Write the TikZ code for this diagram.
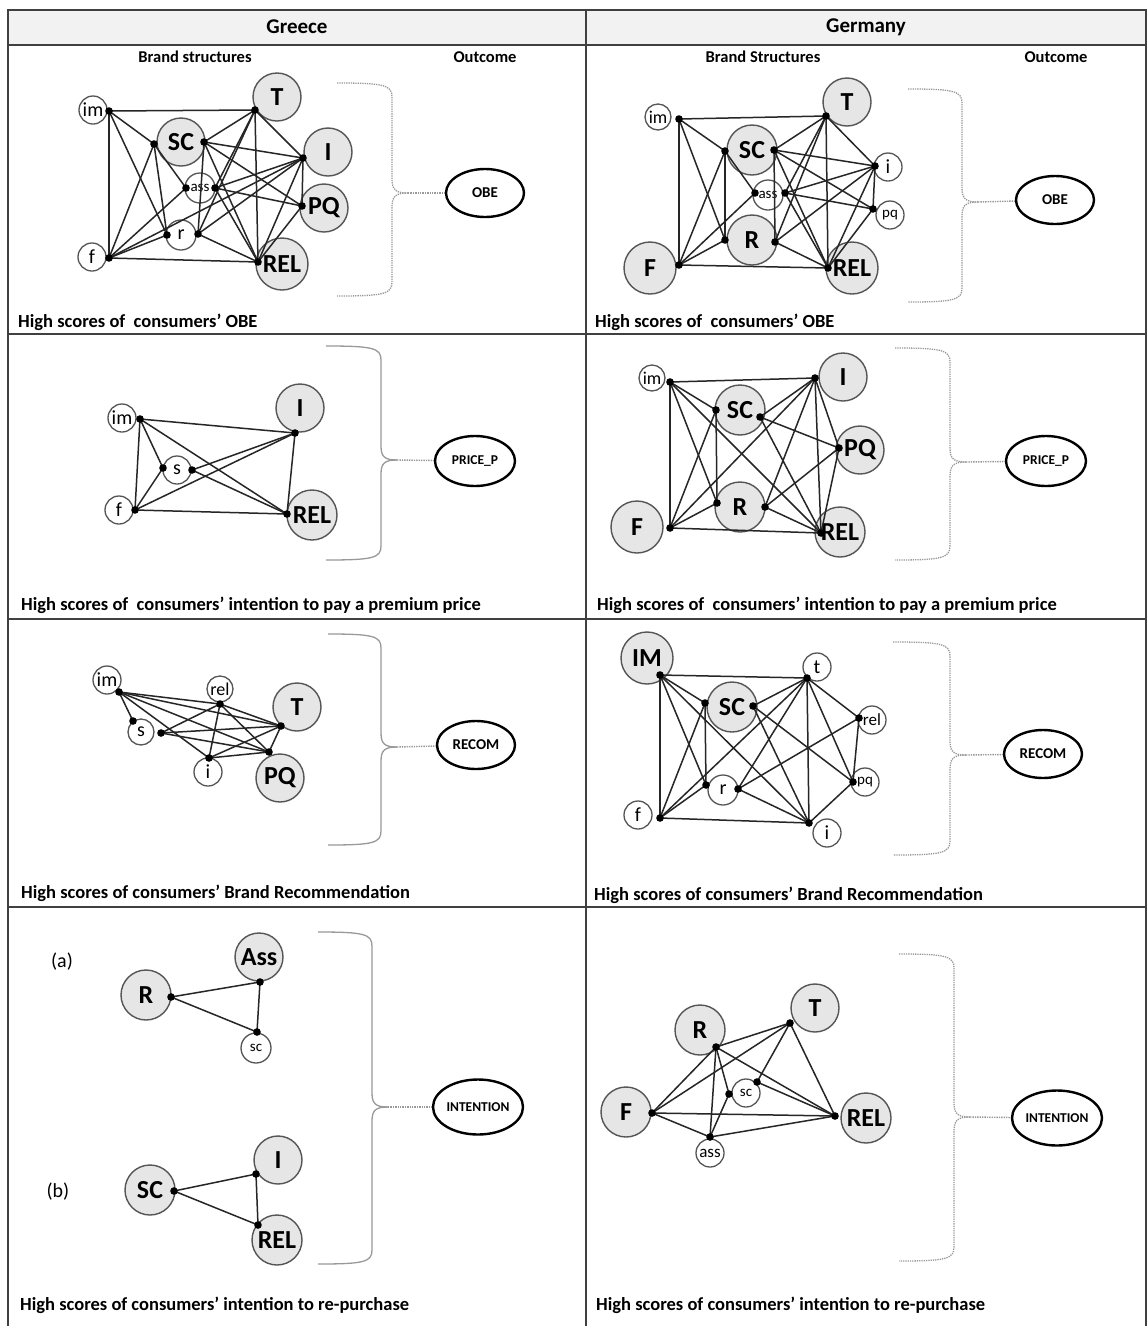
\documentclass[tikz,border=0pt]{standalone}
\usepackage{fontspec}
\setmainfont{Carlito}
\usetikzlibrary{shapes.geometric}
\definecolor{nodegrey}{HTML}{E6E6E6}
\definecolor{rim}{HTML}{555555}
\definecolor{rule}{HTML}{404040}
\definecolor{headfill}{HTML}{F2F2F2}
\definecolor{bracegrey}{HTML}{999999}

\tikzset{
  big/.style={circle, draw=rim, fill=nodegrey, line width=1.4pt, minimum size=#1,
    inner sep=0pt, font=\bfseries\fontsize{26}{26}\selectfont},
  big/.default=48pt,
  small/.style={circle, draw=rim, fill=white, line width=1.3pt, minimum size=#1,
    inner sep=0pt, font=\fontsize{20}{20}\selectfont},
  small/.default=28pt,
  tinytext/.style={font=\fontsize{15}{15}\selectfont},
  edge/.style={line width=1.5pt, draw=black!85},
  outc/.style={ellipse, draw=black, line width=2.4pt, minimum width=78pt,
    minimum height=48pt, inner sep=0pt, font=\bfseries\fontsize{15}{15}\selectfont},
  bracestyle/.style={draw=bracegrey, line width=1.3pt},
  braceline/.style={draw=bracegrey, line width=1.4pt, densely dotted},
  caption/.style={anchor=west, inner sep=0pt, font=\bfseries\fontsize{18.5}{19}\selectfont},
  colhead/.style={inner sep=0pt, font=\bfseries\fontsize{16.5}{17}\selectfont},
  tablerule/.style={draw=rule, line width=1.8pt},
}

% connectors between the named contact points of one panel
\newcommand\links[2]{\foreach \a/\b in {#2} \draw[edge] (#1-\a) -- (#1-\b);}
% black contact dots
\newcommand\pins[2]{\foreach \a in {#2} \fill (#1-\a) circle (3.8pt);}
% curly bracket: #1 x start, #2 x of the spine, #3 top, #4 middle, #5 bottom, #6 tip name, #7 style
\newcommand\obrace[7]{%
  \draw[bracestyle,#7] (#1,#3) .. controls (#2-8,#3) and (#2,#3+2) .. (#2,#3+14)
    -- (#2,#4-14) .. controls (#2,#4-3) and (#2+4,#4) .. (#2+16,#4);
  \draw[bracestyle,#7] (#2+16,#4) .. controls (#2+4,#4) and (#2,#4+3) .. (#2,#4+14)
    -- (#2,#5-14) .. controls (#2,#5-2) and (#2-8,#5) .. (#1,#5);
  \coordinate (#6) at (#2+16,#4);}

\begin{document}
\begin{tikzpicture}[x=1pt,y=-1pt]
\useasboundingbox (0,0) rectangle (1148,1326);
\fill[white] (0,0) rectangle (1148,1326);

% ---------- table ----------
\fill[headfill] (8,10) rectangle (1146,45);
\draw[tablerule] (8,1326) -- (8,10) -- (1146,10) -- (1146,1326);
\draw[tablerule] (586,10) -- (586,1326);
\foreach \yy in {45,334,619,907} \draw[tablerule] (8,\yy) -- (1146,\yy);

\node[inner sep=0pt, font=\bfseries\fontsize{21}{21}\selectfont] (hGr) at (297,27) {Greece};
\node[inner sep=0pt, font=\bfseries\fontsize{21}{21}\selectfont] (hDe) at (866,27) {Germany};
\node[colhead] (bsGr) at (195,57) {Brand structures};
\node[colhead] (ocGr) at (485,57) {Outcome};
\node[colhead] (bsDe) at (763,57) {Brand Structures};
\node[colhead] (ocDe) at (1056,57) {Outcome};

% ---------- captions ----------
\node[caption] (capGA) at (18,322) {High scores of\ \ consumers’ OBE};
\node[caption] (capDA) at (595,322) {High scores of\ \ consumers’ OBE};
\node[caption] (capGB) at (21,605) {High scores of\ \ consumers’ intention to pay a premium price};
\node[caption] (capDB) at (597,605) {High scores of\ \ consumers’ intention to pay a premium price};
\node[caption] (capGC) at (21,893) {High scores of consumers’ Brand Recommendation};
\node[caption] (capDC) at (594,895) {High scores of consumers’ Brand Recommendation};
\node[caption] (capGD) at (20,1305) {High scores of consumers’ intention to re-purchase};
\node[caption] (capDD) at (596,1305) {High scores of consumers’ intention to re-purchase};

% ---------- outcomes and brackets ----------
\node[outc] (oGA) at (485,193) {OBE};
\node[outc, minimum width=80pt, minimum height=50pt, font=\bfseries\fontsize{13.5}{14}\selectfont] (oGB) at (475,461) {PRICE\_P};
\node[outc] (oGC) at (476,745) {RECOM};
\node[outc, minimum width=90pt, minimum height=55pt, font=\bfseries\fontsize{13.5}{14}\selectfont] (oGD) at (478,1107) {INTENTION};
\node[outc] (oDA) at (1055,200) {OBE};
\node[outc, minimum width=80pt, minimum height=50pt, font=\bfseries\fontsize{13.5}{14}\selectfont] (oDB) at (1046,461) {PRICE\_P};
\node[outc] (oDC) at (1043,754) {RECOM};
\node[outc, minimum width=90pt, minimum height=55pt, font=\bfseries\fontsize{13.5}{14}\selectfont] (oDD) at (1057,1118) {INTENTION};

\obrace{337}{392}{83}{193}{296}{tGA}{densely dotted}
\obrace{326}{381}{346}{460}{560}{tGB}{}
\obrace{328}{381}{634}{747}{845}{tGC}{}
\obrace{318}{372}{932}{1107}{1264}{tGD}{}
\obrace{908}{962}{89}{202}{302}{tDA}{densely dotted}
\obrace{895}{950}{348}{462}{560}{tDB}{densely dotted}
\obrace{893}{950}{642}{755}{855}{tDC}{densely dotted}
\obrace{899}{954}{954}{1117}{1261}{tDD}{densely dotted}
\foreach \p in {GA,GB,GC,GD,DA,DB,DC,DD} \draw[braceline] (t\p) -- (o\p);

% ---------- Greece: OBE ----------
\node[small] (GAim) at (93,110) {im};
\node[big] (GAT) at (277,97) {T};
\node[big] (GASC) at (181,142) {SC};
\node[big] (GAI) at (328,152) {I};
\node[small=30pt, tinytext] (GAass) at (200,188) {ass};
\node[big] (GAPQ) at (324,208) {PQ};
\node[small=30pt] (GAr) at (181,235) {r};
\node[small] (GAf) at (92,257) {f};
\node[big=52pt] (GAREL) at (282,264) {REL};
\coordinate (ga-im) at (109,111);
\coordinate (ga-t) at (255,110);
\coordinate (ga-scl) at (154,144);
\coordinate (ga-scr) at (204,142);
\coordinate (ga-i) at (303,158);
\coordinate (ga-assl) at (186,188);
\coordinate (ga-assr) at (215,188);
\coordinate (ga-pq) at (302,206);
\coordinate (ga-rl) at (167,235);
\coordinate (ga-rr) at (198,234);
\coordinate (ga-f) at (109,258);
\coordinate (ga-rel) at (258,262);
\links{ga}{im/t, im/f, im/scl, im/rl, f/rel, f/scl, f/assl, f/rl, f/i, scl/rl, scl/assl,
  scr/i, scr/pq, scr/rel, scr/rr, t/scr, t/assr, t/rr, t/i, t/rel, i/pq, i/assr, i/rr,
  i/rel, pq/assr, pq/rel, rr/rel, assr/rel}
\pins{ga}{im,t,scl,scr,i,assl,assr,pq,rl,rr,f,rel}

% ---------- Germany: OBE ----------
\node[small=26pt, font=\fontsize{18}{18}\selectfont] (DAim) at (658,117) {im};
\node[big] (DAT) at (847,102) {T};
\node[big=50pt] (DASC) at (752,150) {SC};
\node[small] (DAi) at (888,167) {i};
\node[small=30pt, tinytext] (DAass) at (768,195) {ass};
\node[small, tinytext] (DApq) at (890,215) {pq};
\node[big=50pt] (DAR) at (752,240) {R};
\node[big=52pt] (DAF) at (650,268) {F};
\node[big=52pt] (DAREL) at (852,268) {REL};
\coordinate (da-im) at (679,119);
\coordinate (da-t) at (826,116);
\coordinate (da-scl) at (725,151);
\coordinate (da-scr) at (774,150);
\coordinate (da-i) at (875,166);
\coordinate (da-assl) at (755,193);
\coordinate (da-assr) at (785,193);
\coordinate (da-pq) at (873,209);
\coordinate (da-rl) at (725,240);
\coordinate (da-rr) at (775,242);
\coordinate (da-f) at (679,265);
\coordinate (da-rel) at (828,268);
\links{da}{im/t, im/f, im/scl, im/rl, f/rel, f/scl, f/assl, f/rl, scl/rl, scl/assl,
  scr/i, scr/pq, scr/rel, scr/rr, t/scr, t/assr, t/rr, t/i, t/rel, i/pq, i/assr, i/rr,
  i/rel, pq/assr, pq/rel, rr/rel, assr/rel}
\pins{da}{im,t,scl,scr,i,assl,assr,pq,rl,rr,f,rel}

% ---------- Greece: premium price ----------
\node[small] (GBim) at (122,418) {im};
\node[big] (GBI) at (300,408) {I};
\node[small] (GBs) at (177,470) {s};
\node[small] (GBf) at (119,510) {f};
\node[big=50pt] (GBREL) at (312,515) {REL};
\coordinate (gb-im) at (140,419);
\coordinate (gb-i) at (295,433);
\coordinate (gb-sl) at (163,468);
\coordinate (gb-sr) at (192,470);
\coordinate (gb-f) at (135,510);
\coordinate (gb-rel) at (287,514);
\links{gb}{im/i, im/f, f/rel, i/rel, im/sl, im/rel, sr/rel, sr/i, f/i, f/sl}
\pins{gb}{im,i,sl,sr,f,rel}

% ---------- Germany: premium price ----------
\node[small=26pt, font=\fontsize{18}{18}\selectfont] (DBim) at (652,378) {im};
\node[big] (DBI) at (843,377) {I};
\node[big=50pt] (DBSC) at (740,410) {SC};
\node[big] (DBPQ) at (860,450) {PQ};
\node[big=50pt] (DBR) at (740,507) {R};
\node[big=52pt] (DBF) at (637,527) {F};
\node[big=50pt] (DBREL) at (840,532) {REL};
\coordinate (db-im) at (670,382);
\coordinate (db-i) at (815,378);
\coordinate (db-scl) at (716,410);
\coordinate (db-scr) at (760,417);
\coordinate (db-pq) at (839,448);
\coordinate (db-rl) at (717,503);
\coordinate (db-rr) at (765,507);
\coordinate (db-f) at (670,528);
\coordinate (db-rel) at (821,533);
\links{db}{im/i, im/f, f/rel, i/rel, im/scl, im/rl, im/rel, f/scl, f/rl, f/i, scl/rl,
  scr/pq, scr/rel, i/scr, i/rr, i/pq, pq/rr, pq/rel, rr/rel}
\pins{db}{im,i,scl,scr,pq,rl,rr,f,rel}

% ---------- Greece: recommendation ----------
\node[small] (GCim) at (107,680) {im};
\node[small=26pt, font=\fontsize{18}{18}\selectfont] (GCrel) at (220,689) {rel};
\node[big] (GCT) at (297,707) {T};
\node[small=26pt] (GCs) at (141,732) {s};
\node[small] (GCi) at (208,772) {i};
\node[big] (GCPQ) at (280,778) {PQ};
\coordinate (gc-im) at (119,692);
\coordinate (gc-rel) at (220,704);
\coordinate (gc-t) at (281,726);
\coordinate (gc-st) at (133,721);
\coordinate (gc-sr) at (161,733);
\coordinate (gc-i) at (209,758);
\coordinate (gc-pq) at (269,752);
\links{gc}{im/st, im/rel, im/t, im/pq, im/i, sr/rel, sr/t, sr/pq, rel/t, rel/pq, rel/i,
  i/t, i/pq, t/pq}
\pins{gc}{im,rel,t,st,sr,i,pq}

% ---------- Germany: recommendation ----------
\node[big=52pt] (DCIM) at (647,658) {IM};
\node[small] (DCt) at (817,667) {t};
\node[big=50pt] (DCSC) at (732,707) {SC};
\node[small, font=\fontsize{17}{17}\selectfont] (DCrel) at (872,720) {rel};
\node[small=30pt] (DCr) at (723,790) {r};
\node[small, tinytext] (DCpq) at (865,782) {pq};
\node[small] (DCf) at (638,815) {f};
\node[small] (DCi) at (827,833) {i};
\coordinate (dc-im) at (660,675);
\coordinate (dc-t) at (807,678);
\coordinate (dc-scl) at (705,703);
\coordinate (dc-scr) at (753,706);
\coordinate (dc-rel) at (859,718);
\coordinate (dc-rl) at (706,785);
\coordinate (dc-rr) at (738,789);
\coordinate (dc-pq) at (853,782);
\coordinate (dc-f) at (660,818);
\coordinate (dc-i) at (809,823);
\links{dc}{im/t, im/f, f/i, t/i, im/scl, im/rl, im/i, f/scl, f/rl, f/t, scl/rl, scr/t,
  scr/pq, scr/i, t/rel, t/pq, t/rr, rel/pq, rel/rr, rr/i, pq/i}
\pins{dc}{im,t,scl,scr,rel,rl,rr,pq,f,i}

% ---------- Greece: re-purchase ----------
\node[inner sep=0pt, font=\fontsize{20}{20}\selectfont] (labA) at (62,962) {(a)};
\node[inner sep=0pt, font=\fontsize{20}{20}\selectfont] (labB) at (58,1192) {(b)};
\node[big] (GDAss) at (259,957) {Ass};
\node[big=50pt] (GDR) at (146,995) {R};
\node[small=30pt, tinytext] (GDsc) at (256,1048) {sc};
\node[big=50pt] (GDSC) at (150,1190) {SC};
\node[big] (GDI) at (278,1160) {I};
\node[big=50pt] (GDREL) at (277,1240) {REL};
\coordinate (gd-ass) at (260,982);
\coordinate (gd-r) at (171,997);
\coordinate (gd-sc) at (257,1032);
\coordinate (gd-sc2) at (174,1191);
\coordinate (gd-i) at (256,1174);
\coordinate (gd-rel) at (258,1225);
\links{gd}{r/ass, r/sc, ass/sc, sc2/i, sc2/rel, i/rel}
\pins{gd}{ass,r,sc,sc2,i,rel}

% ---------- Germany: re-purchase ----------
\node[big=50pt] (DDR) at (700,1030) {R};
\node[big] (DDT) at (815,1008) {T};
\node[small, tinytext] (DDsc) at (746,1093) {sc};
\node[big=50pt] (DDF) at (626,1112) {F};
\node[big=50pt] (DDREL) at (866,1118) {REL};
\node[small, font=\fontsize{17}{17}\selectfont] (DDass) at (710,1153) {ass};
\coordinate (dd-r) at (716,1047);
\coordinate (dd-t) at (790,1023);
\coordinate (dd-scl) at (729,1094);
\coordinate (dd-sct) at (757,1082);
\coordinate (dd-f) at (652,1113);
\coordinate (dd-rel) at (835,1116);
\coordinate (dd-ass) at (710,1137);
\links{dd}{r/t, r/f, r/rel, r/ass, r/scl, t/f, t/sct, t/rel, f/rel, f/ass, sct/rel,
  scl/ass, ass/rel}
\pins{dd}{r,t,scl,sct,f,rel,ass}
\end{tikzpicture}
\end{document}
